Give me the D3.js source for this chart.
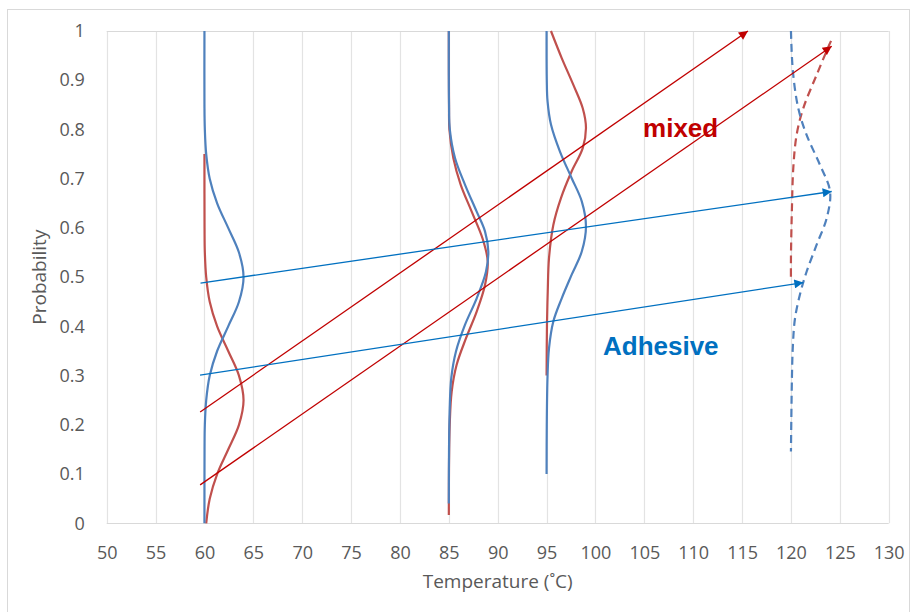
<!DOCTYPE html>
<html>
<head>
<meta charset="utf-8">
<script src="https://cdn.jsdelivr.net/npm/d3@7"></script>
<style>
  html, body { margin: 0; padding: 0; background: #fff; }
  svg { display: block; }
</style>
</head>
<body>
<svg id="chart" width="910" height="612"></svg>
<script>
// ---------- DATA ----------
const xTicks = [50, 55, 60, 65, 70, 75, 80, 85, 90, 95, 100, 105, 110, 115, 120, 125, 130];
const yTicks = [0, 0.1, 0.2, 0.3, 0.4, 0.5, 0.6, 0.7, 0.8, 0.9, 1];
const xTitle = "Temperature (˚C)";
const yTitle = "Probability";

// curves: [temperature, probability]
const blue60 = [[60,1],[60,0.85],[60.04,0.8],[60.18,0.75],[60.54,0.7],[61.3,0.65],[62.43,0.6],[63.53,0.55],[64,0.5],[63.53,0.45],[62.43,0.4],[61.3,0.35],[60.54,0.3],[60.18,0.25],[60.04,0.2],[60.01,0.15],[60,0]];
const red60 = [[60,0.75],[60.01,0.6],[60.04,0.55],[60.18,0.5],[60.54,0.45],[61.3,0.4],[62.43,0.35],[63.53,0.3],[64,0.25],[63.53,0.2],[62.43,0.15],[61.3,0.1],[60.54,0.05],[60.18,0]];
const blue85 = [[85,1],[85.02,0.85],[85.1,0.8],[85.63,0.742],[86.65,0.688],[87.85,0.633],[88.7,0.593],[89.04,0.552],[88.8,0.511],[87.85,0.457],[86.65,0.403],[85.73,0.349],[85.25,0.295],[85.09,0.234],[85.02,0.15],[85,0.04]];
const red85 = [[85,1],[85.02,0.85],[85.06,0.8],[85.46,0.742],[86.21,0.688],[87.34,0.633],[88.46,0.578],[88.98,0.532],[88.7,0.484],[87.85,0.43],[86.76,0.376],[85.8,0.322],[85.29,0.267],[85.09,0.2],[85.02,0.12],[85,0.017]];
const blue95 = [[95,1],[95.02,0.9],[95.1,0.857],[95.45,0.81],[96.37,0.755],[97.57,0.701],[98.6,0.654],[99.03,0.603],[98.6,0.552],[97.57,0.505],[96.55,0.457],[95.69,0.41],[95.25,0.356],[95.1,0.3],[95.02,0.2],[95,0.1]];
const red95 = [[95.45,1],[96.55,0.945],[97.73,0.891],[98.7,0.843],[99.03,0.803],[98.7,0.762],[97.57,0.715],[96.48,0.661],[95.69,0.606],[95.25,0.539],[95.12,0.471],[95.04,0.403],[95,0.3]];
const blue120 = [[120,1],[120.2,0.918],[120.75,0.843],[121.6,0.789],[122.97,0.728],[124,0.674],[123.66,0.62],[122.63,0.566],[121.6,0.511],[121,0.471],[120.42,0.417],[120.2,0.362],[120.1,0.295],[120,0.146]];
const red120 = [[124.1,0.98],[123.92,0.972],[122.63,0.911],[121.26,0.843],[120.58,0.789],[120.24,0.722],[120.1,0.64],[120,0.539],[120,0.491]];

// arrows: [x1, y1, x2, y2]
const redArrows = [[59.56,0.226,115.6,1.0],[59.56,0.078,124.17,0.969]];
const blueArrows = [[59.6,0.488,124.17,0.674],[59.55,0.301,121.27,0.489]];

const labels = [{text:"mixed", x:104.87, y:0.785, color:"#C00000"},{text:"Adhesive", x:100.77, y:0.342, color:"#0070C0"}];

// ---------- DRAW ----------
const svg = d3.select("#chart");
const W = 910, H = 612;
const x = d3.scaleLinear().domain([50,130]).range([106.7,888.7]);
const y = d3.scaleLinear().domain([0,1]).range([523.3,31]);

svg.append("rect").attr("x",0).attr("y",0).attr("width",W).attr("height",H).attr("fill","#fff");
svg.append("rect").attr("x",7.5).attr("y",9.5).attr("width",902).attr("height",640)
  .attr("fill","none").attr("stroke","#D9D9D9").attr("stroke-width",1);

// gridlines
const grid = svg.append("g");
grid.selectAll("line.v").data(xTicks).join("line")
  .attr("x1",d=>Math.round(x(d))+0.5).attr("x2",d=>Math.round(x(d))+0.5)
  .attr("y1",y(1)).attr("y2",y(0)).attr("stroke","#E3E3E3").attr("stroke-width",1.2);
grid.selectAll("line.h").data([0,1]).join("line")
  .attr("x1",x(50)).attr("x2",x(130)).attr("y1",d=>Math.round(y(d))+0.5).attr("y2",d=>Math.round(y(d))+0.5)
  .attr("stroke","#D9D9D9").attr("stroke-width",1.2);

const tickFont = "'Open Sans', 'Liberation Sans', sans-serif";
// axes
const xAxis = svg.append("g").attr("transform",`translate(0,${y(0)})`)
  .call(d3.axisBottom(x).tickValues(xTicks).tickSize(0).tickFormat(d3.format("d")));
xAxis.select(".domain").remove();
xAxis.selectAll("text").attr("y",36).attr("dy",null)
  .attr("fill","#595959").style("font-size","18px").style("font-family",tickFont);

const yAxis = svg.append("g").attr("transform",`translate(${x(50)},0)`)
  .call(d3.axisLeft(y).tickValues(yTicks).tickSize(0).tickPadding(22).tickFormat(d=>d3.format("")(d)));
yAxis.select(".domain").remove();
yAxis.selectAll("text").attr("fill","#595959").style("font-size","18px").style("font-family",tickFont);

svg.append("text").attr("x",(x(50)+x(130))/2).attr("y",588).attr("text-anchor","middle")
  .attr("fill","#595959").style("font-size","19px").style("font-family",tickFont).text(xTitle);
svg.append("text").attr("transform",`translate(46,${(y(0)+y(1))/2}) rotate(-90)`).attr("text-anchor","middle")
  .attr("fill","#595959").style("font-size","19px").style("font-family",tickFont).text(yTitle);

// curves
const line = d3.line().x(d=>x(d[0])).y(d=>y(d[1])).curve(d3.curveCatmullRom.alpha(0.5));
const curves = [
  {d:red60,c:"#C0504D"},{d:blue60,c:"#4F81BD"},
  {d:red85,c:"#C0504D"},{d:blue85,c:"#4F81BD"},
  {d:red95,c:"#C0504D"},{d:blue95,c:"#4F81BD"},
  {d:red120,c:"#C0504D",dash:"8,5"},{d:blue120,c:"#4F81BD",dash:"8,5"}
];
svg.append("g").selectAll("path").data(curves).join("path")
  .attr("d",d=>line(d.d)).attr("fill","none").attr("stroke",d=>d.c)
  .attr("stroke-width",2.2).attr("stroke-dasharray",d=>d.dash||null);

// arrow markers
const defs = svg.append("defs");
[["redHead","#C00000"],["blueHead","#0070C0"]].forEach(([id,c])=>{
  defs.append("marker").attr("id",id).attr("viewBox","0 0 10 10").attr("refX",10).attr("refY",5)
    .attr("markerWidth",11).attr("markerHeight",9).attr("markerUnits","userSpaceOnUse").attr("orient","auto")
    .append("path").attr("d","M0,0 L10,5 L0,10 Z").attr("fill",c);
});
svg.append("g").selectAll("line").data(redArrows).join("line")
  .attr("x1",d=>x(d[0])).attr("y1",d=>y(d[1])).attr("x2",d=>x(d[2])).attr("y2",d=>y(d[3]))
  .attr("stroke","#C00000").attr("stroke-width",1.3).attr("marker-end","url(#redHead)");
svg.append("g").selectAll("line").data(blueArrows).join("line")
  .attr("x1",d=>x(d[0])).attr("y1",d=>y(d[1])).attr("x2",d=>x(d[2])).attr("y2",d=>y(d[3]))
  .attr("stroke","#0070C0").attr("stroke-width",1.3).attr("marker-end","url(#blueHead)");

// labels
svg.append("g").selectAll("text").data(labels).join("text")
  .attr("x",d=>x(d.x)).attr("y",d=>y(d.y)).attr("fill",d=>d.color)
  .style("font-size","26px").style("font-weight","bold").style("font-family","'Liberation Sans', Arial, sans-serif")
  .text(d=>d.text);
</script>
</body>
</html>
